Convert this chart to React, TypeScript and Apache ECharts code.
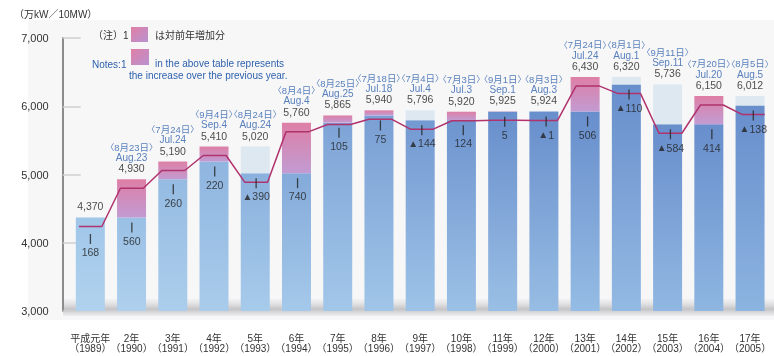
import React, { useEffect, useRef } from "react";
import * as echarts from "echarts";

const categories = [
  "平成元年\n（1989）", "2年\n（1990）", "3年\n（1991）", "4年\n（1992）", "5年\n（1993）",
  "6年\n（1994）", "7年\n（1995）", "8年\n（1996）", "9年\n（1997）", "10年\n（1998）",
  "11年\n（1999）", "12年\n（2000）", "13年\n（2001）", "14年\n（2002）", "15年\n（2003）",
  "16年\n（2004）", "17年\n（2005）",
];
const peakDatesJa = [
  "", "8月23日", "7月24日", "9月4日", "8月24日", "8月4日", "8月25日",
  "7月18日", "7月4日", "7月3日", "9月1日", "8月3日", "7月24日",
  "8月1日", "9月11日", "7月20日", "8月5日",
];
const peakDatesEn = [
  "", "Aug.23", "Jul.24", "Sep.4", "Aug.24", "Aug.4", "Aug.25", "Jul.18", "Jul.4",
  "Jul.3", "Sep.1", "Aug.3", "Jul.24", "Aug.1", "Sep.11", "Jul.20", "Aug.5",
];
const peakDemand = [
  4370, 4930, 5190, 5410, 5020, 5760, 5865, 5940, 5796, 5920, 5925, 5924, 6430, 6320, 5736, 6150, 6012,
];
const changeFromPrev = [
  168, 560, 260, 220, -390, 740, 105, 75, -144, 124, 5, -1, 506, -110, -584, 414, -138,
];
const yMin = 3000;
const yMax = 7000;
const yInterval = 1000;

const FONT = "'Liberation Sans', Arial, 'Noto Sans CJK JP', sans-serif";

function mix(a: number[], b: number[], t: number) {
  const c = a.map((v, k) => Math.round(v + (b[k] - v) * t));
  return `rgb(${c[0]},${c[1]},${c[2]})`;
}

export default function App() {
  const ref = useRef<HTMLDivElement>(null);
  useEffect(() => {
    if (!ref.current) return;
    const chart = echarts.init(ref.current, undefined, { renderer: "svg" });
    const n = peakDemand.length;
    const prev = peakDemand.map((v, i) => v - changeFromPrev[i]);
    // first year: the previous year is not drawn, so no increase segment is shown
    const base = peakDemand.map((v, i) => (i === 0 ? v : Math.min(v, prev[i])));
    const inc = changeFromPrev.map((d, i) => (i === 0 ? 0 : Math.max(0, d)));
    const dec = changeFromPrev.map((d) => Math.max(0, -d));
    const top = peakDemand.map((v, i) => (i === 0 ? v : Math.max(v, prev[i])));
    const tickBase = peakDemand.map((v, i) => Math.min(v, prev[i]));
    const fmt = (x: number) => x.toLocaleString("en-US");
    const half = 0.276;
    const lineData: number[][] = [];
    peakDemand.forEach((v, i) => {
      lineData.push([i - half, v]);
      lineData.push([i + half, v]);
    });
    const pinkGrad = () =>
      new echarts.graphic.LinearGradient(0, 0, 1, 1, [
        { offset: 0, color: "#e07fa6" },
        { offset: 1, color: "#b892cf" },
      ]);

    const option: any = {
      animation: false,
      textStyle: { fontFamily: FONT },
      graphic: [
        { type: "rect", z: -10, shape: { x: 28, y: 20, width: 746, height: 300 }, style: { fill: "#f7f7f8" } },
        {
          type: "rect", z: -5, shape: { x: 63, y: 299, width: 711, height: 17 },
          style: {
            fill: new echarts.graphic.LinearGradient(0, 0, 0, 1, [
              { offset: 0, color: "rgba(220,220,222,0.2)" },
              { offset: 0.6, color: "rgba(190,190,194,0.9)" },
              { offset: 1, color: "rgba(230,230,232,0.6)" },
            ]),
          },
        },
        { type: "text", left: 14, top: 9, style: { text: "（万kW／10MW）", fill: "#333", font: `10px ${FONT}` } },
        { type: "text", left: 93, top: 30, style: { text: "（注）1", fill: "#333", font: `10px ${FONT}` } },
        { type: "rect", shape: { x: 131, y: 27, width: 17, height: 15 }, style: { fill: pinkGrad() } },
        { type: "text", left: 155, top: 30, style: { text: "は対前年増加分", fill: "#333", font: `10px ${FONT}` } },
        { type: "text", left: 92, top: 59, style: { text: "Notes:1", fill: "#2f62ad", font: `10px ${FONT}` } },
        { type: "rect", shape: { x: 131, y: 49, width: 18, height: 16 }, style: { fill: pinkGrad() } },
        { type: "text", left: 155, top: 58, style: { text: "in the above table represents", fill: "#2f62ad", font: `10px ${FONT}` } },
        { type: "text", left: 129, top: 70, style: { text: "the increase over the previous year.", fill: "#2f62ad", font: `10px ${FONT}` } },
      ],
      grid: [
        { left: 69.7, right: -3, top: 38, bottom: 45 },
        { left: 69.7, right: -3, top: 47, bottom: 36 },
      ],
      xAxis: [
        {
          type: "category", gridIndex: 0, data: categories,
          axisLine: { show: false }, axisTick: { show: false },
          axisLabel: { interval: 0, margin: 22, fontSize: 10, lineHeight: 10.5, color: "#333" },
        },
        { type: "value", gridIndex: 1, min: -0.5, max: n - 0.5, show: false },
      ],
      yAxis: [
        {
          type: "value", gridIndex: 0, min: yMin, max: yMax, interval: yInterval, offset: 7,
          axisLine: { show: true, lineStyle: { color: "#8c8c8c", width: 2 } },
          axisTick: { show: true, inside: true, length: 18, lineStyle: { color: "#cfcfcf", width: 1.5 } },
          splitLine: { show: false },
          axisLabel: { margin: 14, fontSize: 11, color: "#333", formatter: (v: number) => fmt(v) },
        },
        { type: "value", gridIndex: 1, min: yMin, max: yMax, show: false },
      ],
      series: [
        {
          type: "bar", name: "base", stack: "a", xAxisIndex: 0, yAxisIndex: 0, barWidth: 29, data: base,
          itemStyle: {
            color: (p: any) => {
              const t = p.dataIndex / (n - 1);
              return new echarts.graphic.LinearGradient(0, 0, 0, 1, [
                { offset: 0, color: mix([160, 198, 232], [104, 142, 204], Math.min(1, t * 1.6)) },
                { offset: 1, color: mix([176, 210, 238], [140, 180, 224], t) },
              ]);
            },
          },
        },
        {
          type: "bar", name: "inc", stack: "a", xAxisIndex: 0, yAxisIndex: 0, barWidth: 29, data: inc,
          itemStyle: {
            color: new echarts.graphic.LinearGradient(0, 0, 0, 1, [
              { offset: 0, color: "#de7fa6" },
              { offset: 1, color: "#c29bd2" },
            ]),
          },
        },
        {
          type: "bar", name: "dec", stack: "a", xAxisIndex: 0, yAxisIndex: 0, barWidth: 29, data: dec,
          itemStyle: { color: "#dde8f0" },
        },
        {
          type: "scatter", xAxisIndex: 0, yAxisIndex: 0, data: top, symbolSize: 1,
          itemStyle: { color: "rgba(0,0,0,0)" }, z: 5,
          label: {
            show: true, position: "top", distance: 5,
            formatter: (p: any) => {
              const i = p.dataIndex;
              const v = `{v|${fmt(peakDemand[i])}}`;
              return peakDatesJa[i]
                ? `{b|〈}{d|${peakDatesJa[i]}}{b|〉}\n{e|${peakDatesEn[i]}}\n${v}`
                : v;
            },
            rich: {
              b: { color: "#2f62ad", fontSize: 8.5, lineHeight: 10.5, fontFamily: FONT },
              d: { color: "#2f62ad", fontSize: 9.5, lineHeight: 10.5, fontFamily: FONT },
              e: { color: "#2f62ad", fontSize: 10, lineHeight: 10.5, fontFamily: FONT },
              v: { color: "#222", fontSize: 10.5, lineHeight: 11, fontFamily: FONT },
            },
          },
        },
        {
          type: "line", xAxisIndex: 1, yAxisIndex: 1, data: lineData, symbol: "none", z: 6,
          lineStyle: { color: "#b0336e", width: 1.5 },
        },
        {
          type: "scatter", xAxisIndex: 1, yAxisIndex: 1, z: 7,
          data: tickBase.map((b, i) => [i, b]),
          symbol: "rect", symbolSize: [1.3, 10], symbolOffset: [0, 1],
          itemStyle: { color: "#222" },
          label: {
            show: true, position: "bottom", distance: 3,
            formatter: (p: any) => {
              const d = changeFromPrev[p.dataIndex];
              return d < 0 ? `{t|▲}{n|${-d}}` : `{n|${d}}`;
            },
            rich: {
              t: { color: "#222", fontSize: 10, fontFamily: FONT },
              n: { color: "#222", fontSize: 10.5, fontFamily: FONT },
            },
          },
        },
      ],
    };
    chart.setOption(option);
    return () => chart.dispose();
  }, []);
  return (
    <div
      ref={ref}
      style={{ position: "fixed", left: 0, top: 0, width: 774, height: 356 }}
    />
  );
}
